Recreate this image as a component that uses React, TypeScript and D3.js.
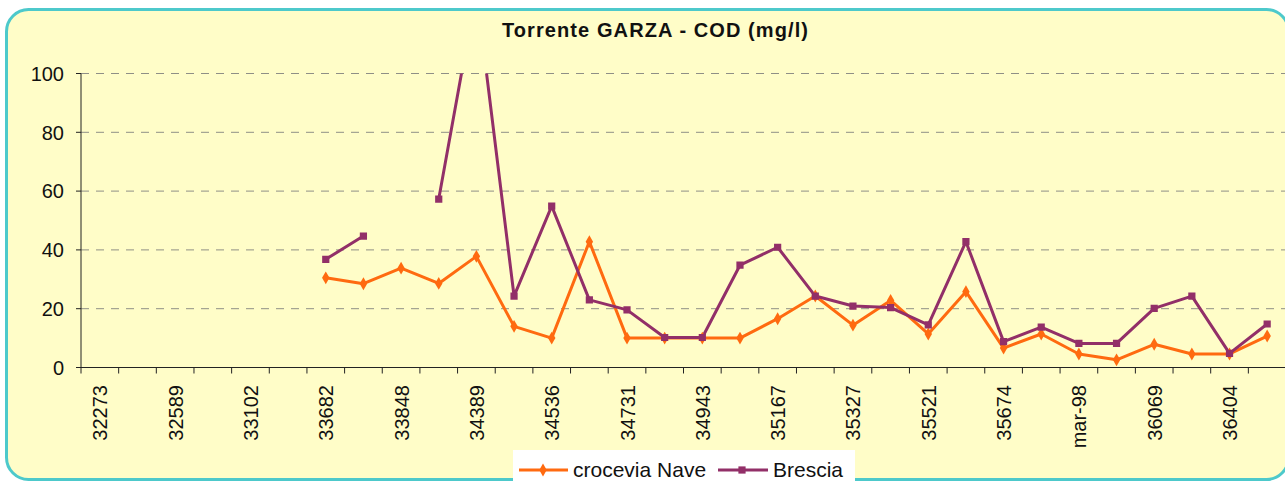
import * as d3 from "d3";

const W = 1285;
const H = 483;

// labels only appear on every second category
const tickLabels = [
  "32273", "32589", "33102", "33682", "33848", "34389", "34536", "34731",
  "34943", "35167", "35327", "35521", "35674", "mar-98", "36069", "36404",
];
const N_CAT = 32;

const nave = [
  null, null, null, null, null, null,
  30.5, 28.5, 33.8, 28.6, 37.8, 14, 10, 42.8, 10, 10, 10, 10, 16.6, 24.3,
  14.4, 22.8, 11.4, 25.8, 6.6, 11.4, 4.6, 2.6, 7.9, 4.6, 4.6, 10.7,
];
const brescia = [
  null, null, null, null, null, null,
  36.8, 44.7, null, 57.3, 128, 24.3, 54.9, 23, 19.6, 10.2, 10.2, 34.8, 40.9,
  24.3, 20.9, 20.4, 14.5, 42.8, 8.8, 13.7, 8.2, 8.2, 20.1, 24.3, 4.8, 14.8,
];
const yTicks = [0, 20, 40, 60, 80, 100];

const NAVE_COLOR = "#FF6A10";
const BRESCIA_COLOR = "#922F68";
const FONT = "'Liberation Sans', Arial, sans-serif";

const plot = { left: 81, right: 1286, top: 73.5, bottom: 367.5 };

export default function App() {
  const x = d3
    .scaleBand<number>()
    .domain(d3.range(N_CAT))
    .range([plot.left, plot.right])
    .paddingInner(0)
    .paddingOuter(0);
  const y = d3.scaleLinear().domain([0, 100]).range([plot.bottom, plot.top]);
  const cx = (i: number) => (x(i) as number) + x.bandwidth() / 2;

  const line = d3
    .line<number | null>()
    .defined((d) => d != null)
    .x((_, i) => cx(i))
    .y((d) => y(d as number));

  const diamond = d3.symbol(d3.symbolDiamond, 48)() || "";
  const square = d3.symbol(d3.symbolSquare, 52)() || "";

  return (
    <svg
      width={W}
      height={H}
      style={{ position: "absolute", left: 0, top: 0 }}
      fontFamily={FONT}
    >
      <defs>
        <clipPath id="plotClip">
          <rect
            x={plot.left}
            y={plot.top}
            width={plot.right - plot.left}
            height={plot.bottom - plot.top + 10}
          />
        </clipPath>
      </defs>
      <rect
        x={6.5}
        y={9.5}
        width={1282}
        height={470}
        rx={22}
        fill="#FFFDC8"
        stroke="#4DC9CB"
        strokeWidth={3}
      />
      <text
        x={655}
        y={37}
        textAnchor="middle"
        fontSize={20}
        fontWeight="bold"
        textLength={306}
        lengthAdjust="spacing"
        fill="#111"
      >
        Torrente GARZA - COD (mg/l)
      </text>

      {yTicks.map((t) => (
        <g key={t}>
          {t > 0 && (
            <line
              x1={plot.left}
              x2={plot.right}
              y1={y(t)}
              y2={y(t)}
              stroke="#8f8f86"
              strokeWidth={1}
              strokeDasharray="8,7"
            />
          )}
          <line x1={76} x2={plot.left} y1={y(t)} y2={y(t)} stroke="#222" />
          <text
            x={64}
            y={y(t)}
            dy="0.36em"
            textAnchor="end"
            fontSize={20}
            fill="#111"
          >
            {t}
          </text>
        </g>
      ))}

      <line x1={plot.left} x2={plot.left} y1={plot.top} y2={plot.bottom} stroke="#222" />
      <line x1={plot.left} x2={plot.right} y1={plot.bottom} y2={plot.bottom} stroke="#222" />
      {d3.range(N_CAT + 1).map((k) => {
        const xx = plot.left + k * x.bandwidth();
        return (
          <line key={k} x1={xx} x2={xx} y1={plot.bottom} y2={plot.bottom + 6} stroke="#222" />
        );
      })}
      {tickLabels.map((lab, j) => {
        const xx = cx(j * 2);
        return (
          <text
            key={lab}
            transform={`translate(${xx + 7.5},385) rotate(-90)`}
            textAnchor="end"
            fontSize={20}
            fill="#111"
          >
            {lab}
          </text>
        );
      })}

      <g clipPath="url(#plotClip)">
        <path d={line(nave) || ""} fill="none" stroke={NAVE_COLOR} strokeWidth={3} strokeLinejoin="round" />
        <path d={line(brescia) || ""} fill="none" stroke={BRESCIA_COLOR} strokeWidth={3} strokeLinejoin="round" />
        {nave.map((v, i) =>
          v == null ? null : (
            <path key={`n${i}`} d={diamond} transform={`translate(${cx(i)},${y(v)})`} fill={NAVE_COLOR} />
          )
        )}
        {brescia.map((v, i) =>
          v == null || v > 100 ? null : (
            <path key={`b${i}`} d={square} transform={`translate(${cx(i)},${y(v)})`} fill={BRESCIA_COLOR} />
          )
        )}
      </g>

      <g>
        <rect x={513} y={450} width={342} height={40} fill="#FFFFFF" />
        <line x1={519} x2={568} y1={470} y2={470} stroke={NAVE_COLOR} strokeWidth={3} />
        <path d={diamond} transform="translate(543,470)" fill={NAVE_COLOR} />
        <text x={573} y={477} fontSize={21} fill="#111">
          crocevia Nave
        </text>
        <line x1={718} x2={768} y1={470} y2={470} stroke={BRESCIA_COLOR} strokeWidth={3} />
        <path d={square} transform="translate(742,470)" fill={BRESCIA_COLOR} />
        <text x={773} y={477} fontSize={21} fill="#111">
          Brescia
        </text>
      </g>
    </svg>
  );
}
